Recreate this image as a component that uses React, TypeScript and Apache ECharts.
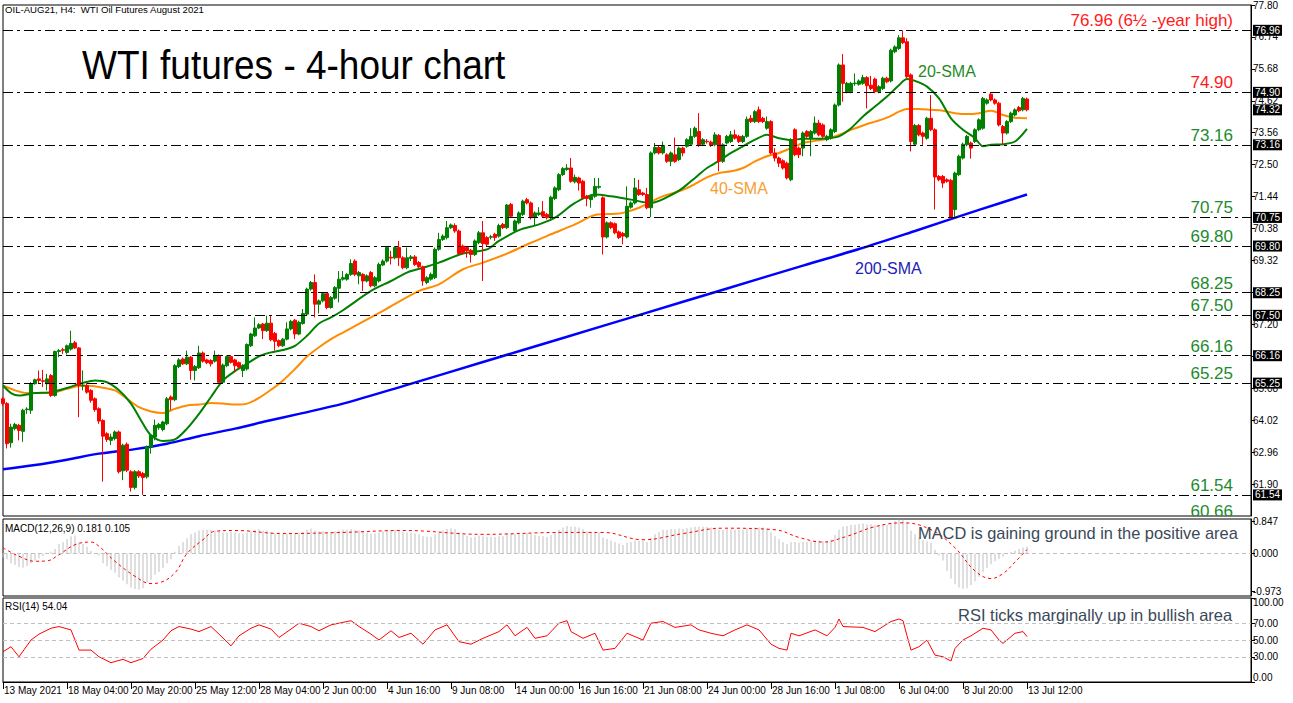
import React, { useEffect, useRef } from 'react';
import * as echarts from 'echarts';

const xTickLabels = ['13 May 2021', '18 May 04:00', '20 May 20:00', '25 May 12:00', '28 May 04:00', '2 Jun 00:00', '4 Jun 16:00', '9 Jun 08:00', '14 Jun 00:00', '16 Jun 16:00', '21 Jun 08:00', '24 Jun 00:00', '28 Jun 16:00', '1 Jul 08:00', '6 Jul 04:00', '8 Jul 20:00', '13 Jul 12:00'];
const BARS_PER_LABEL = 16;
const TOTAL_SLOTS = 313;

const PRICE_MIN = 60.84;
const PRICE_MAX = 77.8;
const priceTicks = [61.9, 62.96, 64.02, 65.08, 66.14, 67.2, 68.26, 69.32, 70.38, 71.44, 72.5, 73.56, 74.62, 75.68, 76.74, 77.8];
const macdTicks = [0.847, 0, -0.973];
const rsiTicks = [100, 70, 50, 30, 0];
const rsiLevels = [70, 50, 30];

// [open, close, low, high]
const candles = [
[64.73,64.57,64.50,64.80],[64.57,63.24,63.08,64.62],[63.27,63.79,63.11,63.90],[63.74,63.88,63.68,63.93],[63.85,63.68,63.35,63.90],
[63.65,64.35,63.30,64.40],[64.37,64.39,64.23,64.45],[64.35,65.23,64.23,65.28],[65.23,65.36,65.20,65.40],[65.39,65.34,65.23,65.67],
[65.33,65.31,65.12,65.69],[65.23,65.39,65.01,65.56],[65.50,64.84,64.79,65.55],[64.84,66.30,64.80,66.33],[66.30,66.33,66.11,66.38],
[66.36,66.34,66.22,66.42],[66.27,66.49,66.20,66.53],[66.38,66.57,66.33,66.99],[66.59,66.42,66.38,66.65],[66.42,65.17,64.12,66.44],
[65.15,65.18,65.01,65.67],[65.17,64.95,64.90,65.25],[65.01,64.68,64.60,65.05],[64.73,64.37,64.30,64.78],[64.40,63.99,63.90,64.45],
[64.01,63.49,61.98,64.05],[63.57,63.38,63.30,63.62],[63.35,63.46,63.19,63.57],[63.41,63.63,63.35,63.68],[63.63,62.31,62.25,63.68],
[62.34,63.19,62.03,63.24],[63.22,62.36,62.30,63.28],[62.31,61.79,61.65,62.36],[61.79,62.31,61.72,62.36],[62.31,62.17,62.10,62.36],
[62.25,62.12,61.54,62.30],[62.14,63.13,62.08,63.18],[63.13,63.52,62.91,63.55],[63.46,63.85,63.35,64.04],[63.77,63.88,63.70,63.93],
[63.71,63.96,63.65,64.00],[63.90,64.73,63.85,64.79],[64.79,64.70,64.35,64.84],[64.70,65.83,64.65,65.88],[65.80,66.02,65.75,66.08],
[66.05,65.89,65.85,66.10],[65.89,66.11,65.85,66.33],[66.11,65.67,65.36,66.15],[65.67,65.80,65.34,65.85],[65.76,66.25,65.72,66.49],
[66.25,65.98,65.93,66.30],[66.02,65.93,65.88,66.06],[66.00,65.89,65.80,66.04],[65.98,66.17,65.93,66.33],[66.17,65.28,65.23,66.20],
[65.28,65.85,65.23,65.90],[65.83,66.13,65.78,66.17],[66.13,65.94,65.90,66.18],[66.02,65.83,65.61,66.06],[65.93,65.78,65.72,65.97],
[65.67,65.83,65.45,65.88],[65.72,66.53,65.67,66.57],[66.49,66.88,66.45,66.92],[66.82,67.08,66.78,67.43],[67.08,67.19,67.04,67.24],
[67.21,66.99,66.71,67.25],[66.99,67.24,66.95,67.49],[67.24,66.69,66.64,67.49],[66.90,66.64,66.33,66.95],[66.66,66.49,66.44,66.70],
[66.49,66.71,66.45,66.75],[66.71,67.05,66.67,67.27],[67.05,67.30,67.00,67.35],[67.34,66.88,66.71,67.38],[66.88,67.27,66.84,67.32],
[67.23,67.56,67.19,67.71],[67.54,68.37,67.50,68.42],[68.37,68.59,68.32,68.64],[68.59,67.87,67.43,68.86],[67.87,67.98,67.56,68.03],
[67.98,68.22,67.93,68.27],[68.22,67.76,67.70,68.27],[67.76,68.09,67.72,68.14],[68.07,68.42,68.02,68.47],[68.40,68.70,67.93,68.97],
[68.70,68.75,68.65,68.97],[68.70,68.86,68.65,68.90],[68.86,69.22,68.81,69.36],[69.30,68.86,68.80,69.36],[68.81,68.92,68.53,68.97],
[68.86,68.64,68.31,68.90],[68.64,68.81,68.59,68.86],[68.92,68.48,68.43,68.97],[68.48,68.75,68.43,68.80],[68.64,69.19,68.59,69.25],
[69.17,69.30,69.14,69.36],[69.30,69.75,69.25,69.80],[69.43,69.40,69.19,69.64],[69.41,69.75,69.36,69.80],[69.75,69.41,69.14,69.97],
[69.41,69.08,69.03,69.46],[69.08,69.41,69.03,69.75],[69.39,69.44,69.30,69.50],[69.44,69.19,69.14,69.50],[69.25,69.11,69.06,69.30],
[69.11,68.64,68.48,69.15],[68.59,68.75,68.53,68.80],[68.70,68.86,68.65,68.92],[68.75,69.69,68.70,69.75],[69.69,70.02,69.64,70.24],
[70.02,70.13,69.97,70.19],[70.08,70.41,70.02,70.63],[70.41,70.50,70.36,70.55],[70.48,70.30,70.24,70.55],[70.30,69.55,69.50,70.35],
[69.80,69.58,69.52,69.85],[69.75,69.64,69.41,69.80],[69.66,69.52,69.25,69.70],[69.52,69.97,69.47,70.02],[69.91,70.24,69.86,70.30],
[70.24,69.88,68.64,70.63],[70.08,69.86,69.80,70.13],[70.09,70.11,70.02,70.17],[70.19,70.08,69.97,70.24],[70.13,70.48,70.08,70.54],
[70.52,70.41,70.36,70.57],[70.41,71.16,70.36,71.20],[71.18,70.79,70.74,71.23],[70.30,70.63,70.25,70.68],[70.57,70.90,70.52,70.95],
[70.85,71.29,70.80,71.34],[71.34,71.23,71.18,71.40],[71.23,70.74,70.68,71.28],[70.74,70.90,70.46,70.95],[70.85,70.90,70.80,71.09],
[70.94,70.79,70.74,71.29],[70.85,70.74,70.68,70.90],[70.74,71.42,70.68,71.47],[71.38,71.73,71.33,71.78],[71.67,72.17,71.62,72.22],
[72.17,72.37,72.12,72.42],[72.34,72.39,72.30,72.52],[72.39,71.95,71.90,72.72],[71.93,72.08,71.88,72.17],[72.06,71.89,71.64,72.10],
[71.95,71.40,71.35,72.00],[71.45,71.38,71.12,71.50],[71.34,71.45,71.07,71.50],[71.45,71.78,71.40,72.06],[71.75,71.78,71.70,72.06],
[71.40,70.10,69.52,71.45],[70.10,70.57,70.05,70.62],[70.57,70.41,70.36,70.62],[70.54,70.24,70.19,70.58],[70.27,70.08,70.03,70.32],
[70.22,70.13,69.86,70.27],[70.10,71.12,70.05,71.78],[71.09,71.23,71.04,71.28],[71.23,71.73,71.18,72.06],[71.67,71.51,71.46,72.00],
[71.56,71.51,71.46,71.60],[71.51,71.07,71.02,71.73],[71.07,72.89,70.76,72.94],[72.89,73.07,72.84,73.22],[73.07,72.89,72.84,73.12],
[72.89,73.14,72.84,73.27],[72.83,72.61,72.56,72.88],[72.61,72.89,72.45,72.94],[72.83,72.61,72.56,73.40],[72.67,73.05,72.62,73.10],
[73.05,72.89,72.78,73.10],[73.11,73.33,73.06,73.38],[73.18,73.44,73.13,73.71],[73.44,73.71,73.39,73.77],[73.60,73.14,73.09,74.21],
[73.18,73.33,73.13,73.38],[73.28,73.26,73.20,73.35],[73.25,73.14,73.09,73.30],[73.16,73.49,73.11,73.58],[73.47,72.61,72.28,73.52],
[72.61,73.16,72.56,73.21],[73.22,73.44,73.17,73.49],[73.27,73.49,73.22,73.62],[73.49,73.38,73.33,73.66],[73.44,73.27,73.22,73.49],
[73.27,73.44,73.22,73.49],[73.44,74.01,73.39,74.10],[74.04,73.93,73.88,74.15],[73.93,74.26,73.88,74.31],[74.32,73.93,73.88,74.43],
[74.04,73.93,73.88,74.09],[73.71,73.93,73.66,74.10],[73.93,72.89,72.84,73.98],[72.89,72.72,72.61,73.05],[72.72,72.55,72.42,72.77],
[72.63,72.39,72.34,72.68],[72.55,72.06,72.01,72.60],[72.00,73.33,71.95,73.38],[73.66,72.83,72.78,73.71],[73.05,72.83,72.72,73.10],
[73.05,73.55,72.78,73.60],[73.60,73.44,73.39,73.65],[73.38,73.60,72.78,73.65],[73.55,73.88,73.50,74.10],[73.88,73.49,73.44,73.99],
[73.82,73.44,73.39,73.87],[73.33,73.44,73.28,73.49],[73.38,73.66,73.33,73.71],[73.60,74.48,73.55,74.53],[74.48,75.81,74.43,75.86],
[75.81,75.20,74.59,76.17],[74.92,75.20,74.87,75.25],[74.92,75.20,74.87,75.25],[75.19,75.21,75.12,75.53],[75.17,75.28,75.12,75.33],
[75.20,75.39,75.15,75.48],[75.39,75.12,74.37,75.44],[75.14,75.03,74.98,75.45],[75.34,74.92,74.87,75.39],[74.92,75.09,74.87,75.14],
[75.03,75.37,74.98,75.42],[75.37,75.25,75.20,75.42],[75.28,76.30,75.23,76.35],[76.25,76.41,76.20,76.46],[76.36,76.71,76.31,76.80],
[76.71,76.55,76.50,76.96],[76.58,75.42,75.37,76.70],[75.48,73.27,72.94,75.53],[73.18,73.80,73.13,73.85],[73.80,73.49,73.44,73.85],
[73.55,73.44,73.16,73.60],[73.38,74.04,73.33,74.09],[74.04,73.66,73.61,74.81],[73.66,72.09,71.01,73.71],[72.11,72.00,71.95,72.16],
[72.11,71.89,71.73,72.16],[72.00,71.95,71.90,72.05],[71.98,70.76,70.70,72.03],[71.01,72.22,70.76,72.27],[72.17,72.78,72.12,72.83],
[72.72,73.18,72.67,73.23],[73.16,73.44,73.11,73.49],[73.22,73.05,72.70,73.27],[73.27,73.66,73.22,73.71],[73.66,73.99,73.61,74.04],
[73.71,74.70,73.66,74.75],[74.54,74.65,74.49,74.70],[74.84,74.65,74.60,74.90],[74.65,74.54,74.49,74.70],[74.54,73.82,73.77,74.59],
[73.77,73.55,73.16,73.82],[73.55,73.93,73.50,73.98],[73.93,74.21,73.88,74.26],[74.15,74.32,74.10,74.37],[74.40,74.29,74.24,74.45],
[74.32,74.70,74.27,74.75],[74.68,74.32,74.27,74.73]
];

// [bar index, value] read along each moving average
const sma20 = [[0,65.17],[2,64.92],[4,64.84],[8,64.92],[12,64.95],[16,65.09],[20,65.26],[23,65.34],[26,65.28],[29,65.01],[32,64.57],[35,63.90],[37,63.52],[40,63.33],[43,63.38],[46,63.74],[49,64.23],[52,64.79],[55,65.34],[58,65.65],[61,65.89],[64,66.14],[67,66.27],[70,66.35],[73,66.49],[76,66.82],[79,67.23],[82,67.43],[85,67.67],[92,68.31],[97,68.64],[101,68.92],[105,69.08],[109,69.25],[115,69.55],[121,69.69],[124,69.97],[129,70.33],[134,70.52],[138,70.74],[143,71.23],[148,71.51],[152,71.45],[157,71.34],[162,71.23],[168,71.56],[170,71.73],[173,72.06],[176,72.39],[179,72.63],[182,72.89],[185,73.11],[188,73.33],[191,73.49],[194,73.38],[197,73.32],[200,73.36],[203,73.36],[206,73.38],[209,73.44],[212,73.71],[215,74.10],[218,74.43],[221,74.76],[224,75.14],[226,75.34],[228,75.28],[231,75.09],[234,74.70],[237,74.04],[240,73.66],[243,73.38],[245,73.11],[247,73.16],[250,73.18],[253,73.27],[256,73.69]];
const sma40 = [[0,65.17],[3,65.01],[6,64.92],[12,64.92],[16,65.06],[20,65.17],[24,65.12],[28,65.01],[31,64.73],[34,64.45],[37,64.31],[40,64.26],[43,64.40],[46,64.51],[49,64.54],[52,64.59],[55,64.57],[58,64.54],[61,64.57],[64,64.76],[67,65.03],[70,65.34],[73,65.72],[76,66.13],[79,66.44],[82,66.71],[85,66.93],[95,67.65],[104,68.31],[109,68.53],[115,69.03],[120,69.25],[126,69.55],[132,69.91],[137,70.19],[143,70.52],[148,70.83],[153,70.87],[155,70.90],[159,71.07],[164,71.40],[170,71.67],[173,71.86],[176,72.08],[179,72.22],[182,72.28],[185,72.39],[188,72.61],[191,72.78],[194,72.89],[197,73.05],[200,73.22],[203,73.29],[206,73.36],[209,73.49],[212,73.66],[215,73.80],[218,73.93],[221,74.06],[224,74.26],[226,74.35],[229,74.35],[232,74.32],[235,74.29],[238,74.21],[241,74.18],[244,74.21],[247,74.29],[250,74.15],[253,74.06],[256,74.04]];
const sma200 = [[0,62.39],[8,62.53],[16,62.71],[24,62.91],[33,63.06],[41,63.24],[49,63.49],[58,63.74],[66,63.99],[74,64.23],[85,64.57],[100,65.15],[120,65.95],[140,66.75],[160,67.55],[180,68.35],[200,69.15],[214,69.70],[228,70.30],[244,71.00],[256,71.51]];

const macdHist = [
-0.10,-0.15,-0.25,-0.30,-0.35,-0.37,-0.33,-0.25,-0.18,-0.12,
-0.07,0.02,0.05,0.12,0.25,0.30,0.38,0.45,0.47,0.30,
0.25,0.18,0.07,0.00,-0.05,-0.25,-0.33,-0.42,-0.50,-0.62,
-0.70,-0.80,-0.88,-0.92,-0.94,-0.90,-0.75,-0.68,-0.55,-0.48,
-0.38,-0.25,-0.15,0.05,0.20,0.30,0.40,0.50,0.55,0.60,
0.62,0.62,0.62,0.60,0.58,0.55,0.55,0.56,0.55,0.53,
0.52,0.55,0.58,0.62,0.63,0.60,0.60,0.56,0.52,0.50,
0.50,0.52,0.55,0.53,0.53,0.56,0.62,0.65,0.60,0.58,
0.58,0.55,0.56,0.58,0.60,0.62,0.62,0.64,0.62,0.60,
0.57,0.55,0.52,0.52,0.55,0.58,0.62,0.60,0.62,0.60,
0.56,0.55,0.54,0.52,0.50,0.45,0.44,0.44,0.50,0.56,
0.60,0.64,0.66,0.64,0.55,0.50,0.46,0.42,0.44,0.47,
0.45,0.44,0.44,0.43,0.45,0.45,0.52,0.52,0.50,0.50,
0.53,0.54,0.50,0.48,0.46,0.45,0.43,0.48,0.55,0.62,
0.68,0.72,0.70,0.70,0.68,0.63,0.58,0.55,0.55,0.55,
0.42,0.38,0.34,0.30,0.26,0.22,0.28,0.30,0.34,0.34,
0.33,0.30,0.42,0.50,0.56,0.62,0.62,0.64,0.63,0.65,
0.64,0.66,0.68,0.70,0.70,0.70,0.69,0.68,0.68,0.62,
0.62,0.63,0.63,0.62,0.62,0.62,0.66,0.66,0.68,0.68,
0.68,0.66,0.55,0.45,0.38,0.30,0.24,0.30,0.30,0.28,
0.30,0.30,0.32,0.34,0.34,0.32,0.30,0.36,0.48,0.62,
0.70,0.72,0.74,0.75,0.77,0.78,0.76,0.76,0.74,0.74,
0.75,0.75,0.80,0.85,0.88,0.88,0.82,0.60,0.50,0.42,
0.35,0.32,0.28,0.10,-0.05,-0.18,-0.45,-0.65,-0.80,-0.88,
-0.92,-0.90,-0.82,-0.72,-0.60,-0.48,-0.38,-0.28,-0.20,-0.14,
-0.08,-0.02,0.04,0.08,0.12,0.16,0.18
];
const macdSignal = [[0,0.15],[4,-0.07],[8,-0.2],[11,-0.19],[14,-0.03],[18,0.23],[22,0.30],[24,0.19],[28,-0.2],[33,-0.59],[37,-0.78],[39,-0.76],[43,-0.5],[46,0],[50,0.36],[53,0.58],[58,0.60],[70,0.52],[85,0.55],[100,0.6],[120,0.50],[140,0.55],[150,0.55],[160,0.36],[170,0.52],[180,0.66],[193,0.62],[199,0.42],[205,0.30],[211,0.45],[218,0.70],[225,0.80],[232,0.62],[238,0.15],[243,-0.45],[247,-0.65],[250,-0.52],[253,-0.22],[256,0.105]];

const rsi = [[0,36],[2,42],[4,30],[7,50],[9,57],[12,64],[14,66],[17,62],[19,38],[22,38],[24,30],[27,23],[30,27],[32,23],[35,28],[37,39],[40,50],[42,61],[44,66],[47,63],[49,60],[52,66],[54,57],[57,43],[59,55],[62,64],[64,68],[67,63],[69,53],[72,63],[74,70],[77,66],[79,61],[82,68],[84,70],[87,73],[89,66],[92,57],[94,50],[97,61],[99,53],[102,58],[105,45],[108,62],[111,68],[114,48],[117,45],[120,52],[124,60],[126,68],[128,55],[131,65],[133,52],[136,55],[139,70],[141,73],[142,60],[145,52],[148,58],[150,38],[153,40],[156,58],[160,50],[162,70],[165,72],[168,65],[172,68],[174,62],[177,58],[180,55],[183,62],[186,68],[189,62],[192,45],[194,40],[196,38],[197,58],[199,55],[203,62],[206,55],[208,65],[209,75],[210,66],[215,65],[218,60],[222,72],[224,75],[225,73],[226,55],[227,38],[229,42],[231,50],[233,32],[235,30],[237,25],[238,40],[240,50],[242,55],[245,64],[247,62],[249,50],[250,46],[253,58],[255,60],[256,54]];

const levels = [76.96, 74.9, 73.16, 70.75, 69.8, 68.25, 67.5, 66.16, 65.25, 61.54];
const lastPrice = 74.32;
const levelNotes = [
  { value: 76.96, text: '76.96 (6½ -year high)' },
  { value: 74.9, text: '74.90' },
  { value: 73.16, text: '73.16' },
  { value: 70.75, text: '70.75' },
  { value: 69.8, text: '69.80' },
  { value: 68.25, text: '68.25' },
  { value: 67.5, text: '67.50' },
  { value: 66.16, text: '66.16' },
  { value: 65.25, text: '65.25' },
  { value: 61.54, text: '61.54' },
  { value: 60.66, text: '60.66' },
];
const redNotes = [76.96, 74.9];

const FONT = 'Liberation Sans';
const GREEN_TXT = '#1d8a2e';
const RED_TXT = '#ff1a1a';
const NOTE_TXT = '#3b4858';
const CLEAR = 'rgba(0,0,0,0)';
const NOTE_SIZE = 17;
const NOTE_INSET = 18;
const RSI_EDGE_INSET = 5.5;

export default function App() {
  const ref = useRef<HTMLDivElement>(null);
  useEffect(() => {
    if (!ref.current) return;
    const chart = echarts.init(ref.current, undefined, { renderer: 'svg' });
    const cats = Array.from({ length: TOTAL_SLOTS }, (_, i) => String(i));
    const isLabelSlot = (i: number) => i % BARS_PER_LABEL === 0 && i / BARS_PER_LABEL < xTickLabels.length;
    const grids = [
      { left: 3, top: 3, width: 1248, height: 513 },
      { left: 3, top: 519, width: 1248, height: 77 },
      { left: 3, top: 598, width: 1248, height: 84 },
    ].map(g => ({ ...g, show: true, borderColor: '#000', borderWidth: 1, backgroundColor: 'transparent' }));
    const xAxes = [0, 1, 2].map(gi => ({
      type: 'category', gridIndex: gi, data: cats, boundaryGap: false,
      show: gi === 2,
      axisLine: { show: true, lineStyle: { color: '#000', width: 1 } },
      axisTick: { show: true, length: 7, interval: (i: number) => isLabelSlot(i), lineStyle: { color: '#000' } },
      axisLabel: {
        show: true, interval: (i: number) => isLabelSlot(i), align: 'left', margin: 3, padding: [0, 0, 0, 1],
        fontSize: 10, fontFamily: FONT, color: '#000',
        formatter: (v: string) => { const i = +v; return isLabelSlot(i) ? xTickLabels[i / BARS_PER_LABEL] : ''; },
      },
      splitLine: { show: false },
    }));
    const yBase = {
      type: 'value', position: 'right', scale: true,
      axisLine: { show: true, lineStyle: { color: '#000' } },
      splitLine: { show: false },
    };
    // RSI extreme labels sit a little inside the panel, as in the terminal
    const rsiLabelPos = rsiTicks.map(v => (v === 100 ? v - RSI_EDGE_INSET : v === 0 ? v + RSI_EDGE_INSET : v));
    const rsiLabelText = (v: number) => {
      const k = rsiLabelPos.findIndex(p => Math.abs(p - v) < 1e-6);
      return (k >= 0 ? rsiTicks[k] : v).toFixed(2);
    };
    const yAxes = [
      { ...yBase, gridIndex: 0, min: PRICE_MIN, max: PRICE_MAX,
        axisTick: { show: true, length: 4, customValues: priceTicks, lineStyle: { color: '#000' } },
        axisLabel: { customValues: priceTicks, margin: 2, fontSize: 10, fontFamily: FONT, color: '#000', formatter: (v: number) => v.toFixed(2) } },
      { ...yBase, gridIndex: 1, min: -1.103, max: 0.899,
        axisTick: { show: true, length: 4, customValues: macdTicks, lineStyle: { color: '#000' } },
        axisLabel: { customValues: macdTicks, margin: 2, fontSize: 10, fontFamily: FONT, color: '#000', formatter: (v: number) => v.toFixed(3) } },
      { ...yBase, gridIndex: 2, min: 0, max: 100,
        axisTick: { show: true, length: 4, customValues: rsiTicks, lineStyle: { color: '#000' } },
        axisLabel: { customValues: rsiLabelPos, margin: 2, fontSize: 10, fontFamily: FONT, color: '#000', formatter: rsiLabelText } },
    ];

    const dashDot = [10, 4, 3, 4];
    const levelLines = [
      ...levels.map(v => ({ yAxis: v })),
      { yAxis: lastPrice, lineStyle: { color: CLEAR } },
    ];
    const noteColor = (v: number) => (redNotes.includes(v) ? RED_TXT : GREEN_TXT);
    const inRangeNotes = levelNotes.filter(n => n.value >= PRICE_MIN);
    const belowNotes = levelNotes.filter(n => n.value < PRICE_MIN);
    const noteLines = inRangeNotes.map(n => ({
      yAxis: n.value,
      label: { formatter: n.text, color: noteColor(n.value) },
    }));

    const option = {
      animation: false,
      backgroundColor: '#ffffff',
      textStyle: { fontFamily: FONT },
      grid: grids,
      xAxis: xAxes,
      yAxis: yAxes,
      series: [
        {
          type: 'candlestick', name: 'OIL', xAxisIndex: 0, yAxisIndex: 0, data: candles, barWidth: 3,
          itemStyle: { color: '#008000', color0: '#ff0000', borderColor: '#008000', borderColor0: '#ff0000', borderWidth: 1 },
          markLine: {
            silent: true, symbol: ['none', 'none'], animation: false,
            lineStyle: { color: '#000', width: 1, type: dashDot },
            label: {
              show: true, position: 'end', distance: 2, formatter: (p: any) => Number(p.value).toFixed(2),
              backgroundColor: '#000', color: '#fff', fontSize: 10, fontFamily: FONT, padding: [1, 2, 0, 2], lineHeight: 10,
            },
            data: levelLines,
          },
          z: 3,
        },
        { type: 'line', name: '200-SMA', xAxisIndex: 0, yAxisIndex: 0, data: sma200, showSymbol: false, smooth: 0.3,
          lineStyle: { color: '#0000ff', width: 2.5 },
          markLine: {
            silent: true, symbol: ['none', 'none'], animation: false,
            lineStyle: { color: CLEAR, width: 1 },
            label: { show: true, position: 'insideEndTop', distance: [NOTE_INSET, 1], fontSize: NOTE_SIZE, fontFamily: FONT },
            data: noteLines,
          } },
        { type: 'line', name: '40-SMA', xAxisIndex: 0, yAxisIndex: 0, data: sma40, showSymbol: false, smooth: 0.3,
          lineStyle: { color: '#ff8c00', width: 2 } },
        { type: 'line', name: '20-SMA', xAxisIndex: 0, yAxisIndex: 0, data: sma20, showSymbol: false, smooth: 0.3,
          lineStyle: { color: '#008000', width: 2 } },
        { type: 'custom', name: 'notes-below', xAxisIndex: 0, yAxisIndex: 0, clip: true, silent: true,
          data: belowNotes.map(n => [0, n.value]),
          renderItem: (params: any, api: any) => {
            const n = belowNotes[params.dataIndex];
            const pt = api.coord([0, api.value(1)]);
            const cs = params.coordSys;
            return {
              type: 'text', x: cs.x + cs.width - NOTE_INSET, y: pt[1] - 1,
              style: { text: n.text, fill: noteColor(n.value), fontSize: NOTE_SIZE, fontFamily: FONT, align: 'right', verticalAlign: 'bottom' },
            };
          } },
        { type: 'bar', name: 'MACD', xAxisIndex: 1, yAxisIndex: 1, data: macdHist, barWidth: 1,
          itemStyle: { color: '#c0c0c0' },
          markLine: { silent: true, symbol: ['none', 'none'], animation: false, label: { show: false },
            lineStyle: { color: '#c0c0c0', type: [4, 3], width: 1 }, data: [{ yAxis: 0 }] } },
        { type: 'line', name: 'Signal', xAxisIndex: 1, yAxisIndex: 1, data: macdSignal, showSymbol: false, smooth: 0.4,
          lineStyle: { color: '#ff0000', width: 1, type: [3, 3] } },
        { type: 'line', name: 'RSI', xAxisIndex: 2, yAxisIndex: 2, data: rsi, showSymbol: false,
          lineStyle: { color: '#ff0000', width: 1 },
          markLine: { silent: true, symbol: ['none', 'none'], animation: false, label: { show: false },
            lineStyle: { color: '#c0c0c0', type: [4, 3], width: 1 }, data: rsiLevels.map(v => ({ yAxis: v })) } },
      ],
      graphic: [
        { type: 'text', left: 5, top: 4, z: 50, style: { text: 'OIL-AUG21, H4:  WTI Oil Futures August 2021', fontSize: 9.6, fontFamily: FONT, fill: '#000' } },
        { type: 'text', left: 82, top: 43, z: 50, scaleY: 1.12, style: { text: 'WTI futures - 4-hour chart', fontSize: 37, fontFamily: FONT, fill: '#000' } },
        { type: 'text', left: 918, top: 63, z: 50, style: { text: '20-SMA', fontSize: 16, fontFamily: FONT, fill: '#1f8b1f' } },
        { type: 'text', left: 710, top: 180, z: 50, style: { text: '40-SMA', fontSize: 16, fontFamily: FONT, fill: '#f5a030' } },
        { type: 'text', left: 855, top: 260, z: 50, style: { text: '200-SMA', fontSize: 16, fontFamily: FONT, fill: '#2222b8' } },
        { type: 'text', left: 5, top: 523, z: 50, style: { text: 'MACD(12,26,9) 0.181 0.105', fontSize: 10, fontFamily: FONT, fill: '#000' } },
        { type: 'text', left: 918, top: 525, z: 50, style: { text: 'MACD is gaining ground in the positive area', fontSize: 16.4, fontFamily: FONT, fill: NOTE_TXT } },
        { type: 'text', left: 5, top: 601, z: 50, style: { text: 'RSI(14) 54.04', fontSize: 10, fontFamily: FONT, fill: '#000' } },
        { type: 'text', left: 958, top: 606, z: 50, style: { text: 'RSI ticks marginally up in bullish area', fontSize: 16.5, fontFamily: FONT, fill: NOTE_TXT } },
      ],
    };
    chart.setOption(option as any);
    return () => chart.dispose();
  }, []);
  return <div ref={ref} style={{ width: 1293, height: 703, position: 'absolute', left: 0, top: 0 }} />;
}
